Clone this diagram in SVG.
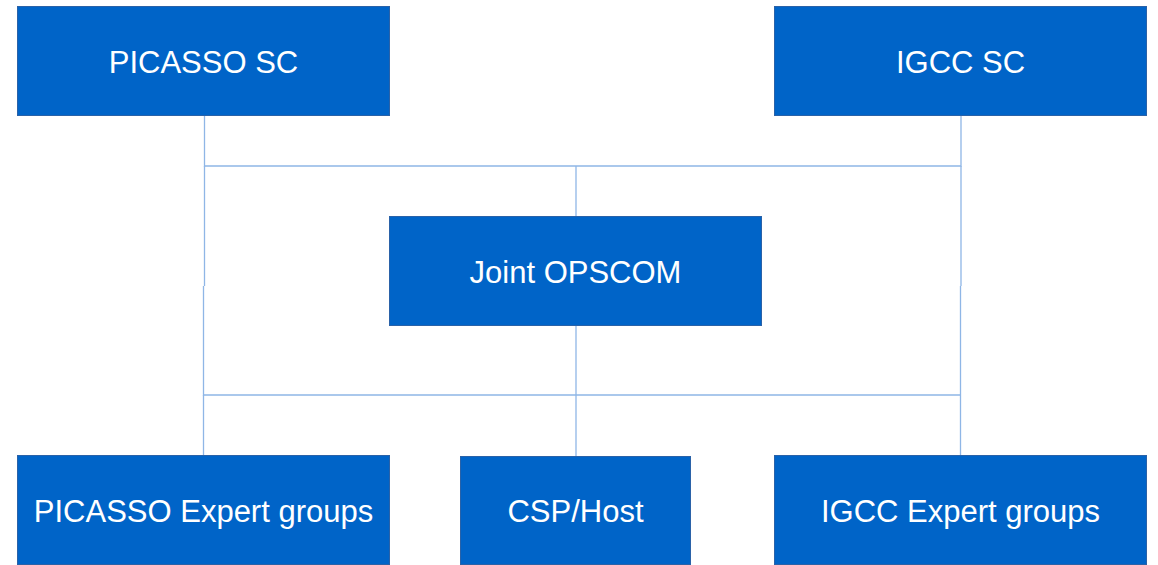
<svg xmlns="http://www.w3.org/2000/svg" width="1158" height="565" viewBox="0 0 1158 565">
<style>
.box{fill:#0064c8;stroke:#2a62a8;stroke-width:1}
.lbl{fill:#ffffff;font-family:"Liberation Sans",Arial,sans-serif;font-size:31px;text-anchor:middle}
.con{fill:none;stroke:#8fb6e6;stroke-width:1.3}
</style>
<rect width="1158" height="565" fill="#ffffff"/>
<g id="connectors">
<path class="con" d="M204.5 115V166H961V115"/>
<path class="con" d="M204.5 166V286M203.5 286V395H960.5"/>
<path class="con" d="M961 166V286M960.5 286V455"/>
<path class="con" d="M203.5 395V455"/>
<path class="con" d="M576 166V216"/>
<path class="con" d="M576 325V456"/>
</g>
<g id="picasso-sc"><rect class="box" x="17.5" y="6.5" width="372" height="109"/><text class="lbl" x="203.5" y="72.5">PICASSO SC</text></g>
<g id="igcc-sc"><rect class="box" x="774.5" y="6.5" width="372" height="109"/><text class="lbl" x="960.5" y="72.5">IGCC SC</text></g>
<g id="joint-opscom"><rect class="box" x="389.5" y="216.5" width="372" height="109"/><text class="lbl" x="575.5" y="282.5">Joint OPSCOM</text></g>
<g id="picasso-expert"><rect class="box" x="17.5" y="455.5" width="372" height="109"/><text class="lbl" x="203.5" y="521.5">PICASSO Expert groups</text></g>
<g id="csp-host"><rect class="box" x="460.5" y="456.5" width="230" height="108"/><text class="lbl" x="575.5" y="521.5">CSP/Host</text></g>
<g id="igcc-expert"><rect class="box" x="774.5" y="455.5" width="372" height="109"/><text class="lbl" x="960.5" y="521.5">IGCC Expert groups</text></g>
</svg>
